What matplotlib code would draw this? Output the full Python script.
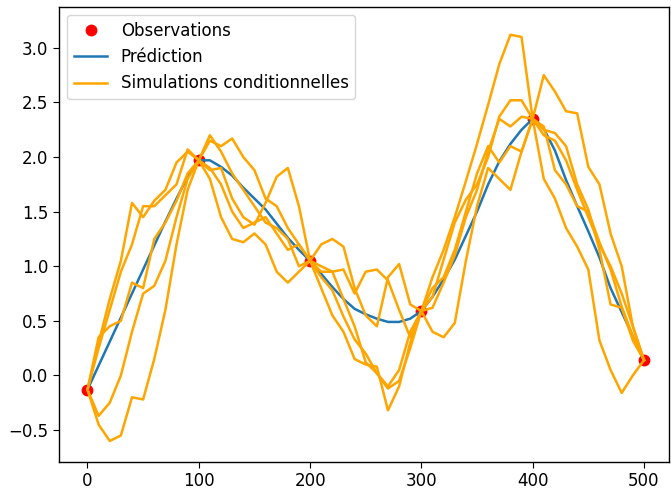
import numpy as np
import matplotlib
matplotlib.use("Agg")
import matplotlib.pyplot as plt

# Observation points
x_obs = [0, 100, 200, 300, 400, 500]
y_obs = [-0.13, 1.97, 1.05, 0.59, 2.35, 0.14]

# Common abscissa grid for the prediction and the simulations
x_grid = list(range(0, 501, 10))

# Kriging prediction
y_pred = [-0.13, 0.09, 0.31, 0.53, 0.75, 0.97, 1.19, 1.41, 1.62, 1.82,
          1.97, 1.97, 1.91, 1.83, 1.72, 1.62, 1.52, 1.39, 1.26, 1.15,
          1.05, 0.93, 0.81, 0.70, 0.61, 0.56, 0.52, 0.49, 0.49, 0.52,
          0.59, 0.72, 0.88, 1.06, 1.28, 1.50, 1.75, 1.96, 2.12, 2.25,
          2.35, 2.26, 2.06, 1.79, 1.55, 1.32, 1.08, 0.80, 0.58, 0.36,
          0.14]

# Conditional simulations
sim_1 = [-0.13, -0.45, -0.60, -0.55, -0.20, -0.22, 0.15, 0.60, 1.20, 1.70,
         1.97, 1.80, 1.45, 1.25, 1.22, 1.30, 1.20, 0.95, 0.85, 0.95,
         1.05, 0.80, 0.55, 0.40, 0.15, 0.10, 0.08, -0.32, -0.10, 0.30,
         0.59, 0.90, 1.15, 1.45, 1.78, 2.12, 2.48, 2.85, 3.12, 3.10,
         2.35, 1.80, 1.62, 1.35, 1.18, 0.97, 0.32, 0.05, -0.16, 0.00,
         0.14]
sim_2 = [-0.13, -0.37, -0.25, 0.00, 0.40, 0.75, 0.82, 1.05, 1.45, 1.80,
         1.97, 2.15, 2.10, 2.17, 2.00, 1.88, 1.62, 1.55, 1.35, 1.20,
         1.05, 0.95, 0.95, 0.70, 0.45, 0.12, 0.02, -0.12, -0.05, 0.25,
         0.59, 0.40, 0.35, 0.48, 1.05, 1.55, 1.90, 1.80, 1.70, 2.05,
         2.35, 2.75, 2.60, 2.42, 2.40, 1.91, 1.75, 1.30, 1.00, 0.45,
         0.14]
sim_3 = [-0.13, 0.35, 0.45, 0.50, 0.85, 0.80, 1.25, 1.40, 1.60, 1.85,
         1.97, 1.88, 1.90, 1.62, 1.45, 1.38, 1.58, 1.82, 1.90, 1.55,
         1.05, 1.20, 1.25, 1.18, 0.80, 0.55, 0.45, 0.90, 1.02, 0.65,
         0.59, 0.72, 1.06, 1.40, 1.61, 1.75, 2.00, 2.37, 2.52, 2.52,
         2.35, 2.25, 2.22, 2.10, 1.75, 1.52, 1.15, 0.65, 0.62, 0.32,
         0.14]
sim_4 = [-0.13, 0.30, 0.70, 1.05, 1.58, 1.45, 1.60, 1.70, 1.95, 2.05,
         1.97, 2.20, 2.05, 1.85, 1.70, 1.55, 1.40, 1.35, 1.25, 1.00,
         1.05, 1.00, 0.95, 0.97, 0.75, 0.95, 0.97, 0.87, 0.60, 0.35,
         0.59, 0.80, 0.90, 1.15, 1.50, 1.85, 2.10, 1.95, 2.10, 2.05,
         2.35, 2.28, 1.88, 1.75, 1.55, 1.50, 1.22, 0.97, 0.63, 0.36,
         0.14]
sim_5 = [-0.13, 0.25, 0.60, 0.95, 1.20, 1.55, 1.55, 1.65, 1.75, 2.07,
         1.97, 1.90, 1.75, 1.50, 1.35, 1.40, 1.45, 1.30, 1.15, 1.20,
         1.05, 0.90, 0.78, 0.54, 0.33, 0.20, 0.02, -0.10, 0.05, 0.40,
         0.59, 0.62, 0.85, 1.10, 1.45, 1.70, 2.05, 2.35, 2.28, 2.37,
         2.35, 2.20, 2.15, 1.97, 1.70, 1.45, 1.20, 1.00, 0.75, 0.45,
         0.14]
simulations = [sim_1, sim_2, sim_3, sim_4, sim_5]

plt.rcParams["font.size"] = 12
plt.rcParams["xtick.major.size"] = 4.2
plt.rcParams["ytick.major.size"] = 4.2
plt.rcParams["axes.linewidth"] = 1.0

fig = plt.figure(figsize=(6.71, 4.91), dpi=100)
ax = fig.add_axes([59 / 671, 29.3 / 491, 610 / 671, 455 / 491])

ax.plot(x_obs, y_obs, "o", color="red", markersize=7.5, label="Observations", zorder=2)
ax.plot(x_grid, y_pred, color="#1f77b4", linewidth=1.8, label="Prédiction", zorder=2)
for i, sim in enumerate(simulations):
    ax.plot(x_grid, sim, color="orange", linewidth=1.8,
            label="Simulations conditionnelles" if i == 0 else None, zorder=3)

ax.set_xlim(-25.6, 522.5)
ax.set_ylim(-0.79, 3.377)
ax.set_xticks([0, 100, 200, 300, 400, 500])
ax.set_yticks([-0.5, 0.0, 0.5, 1.0, 1.5, 2.0, 2.5, 3.0])
ax.tick_params(labelsize=12)
ax.legend(loc="upper left", fontsize=12)

fig.savefig("out.png", dpi=100)
